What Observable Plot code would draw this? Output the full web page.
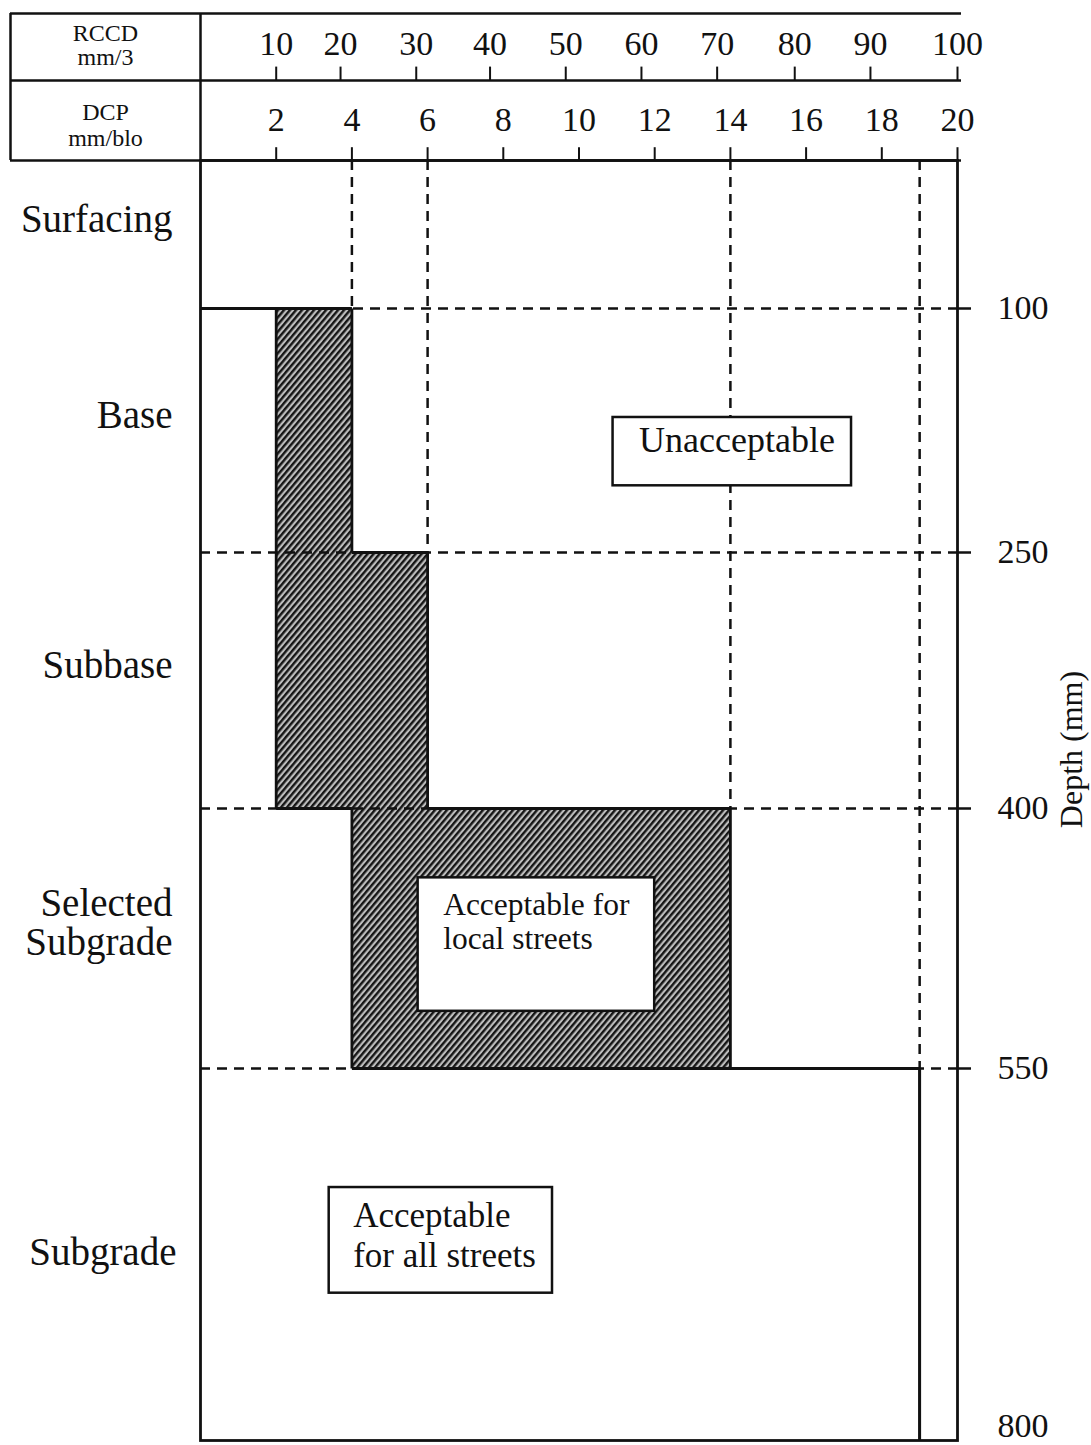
<!DOCTYPE html>
<html>
<head>
<meta charset="utf-8">
<script src="https://cdn.jsdelivr.net/npm/d3@7"></script>
<script src="https://cdn.jsdelivr.net/npm/@observablehq/plot@0.6"></script>
<style>
  body { margin: 0; background: #fff; }
  #chart { position: relative; width: 1091px; height: 1445px; }
  #chart svg { display: block; overflow: visible; }
</style>
</head>
<body>
<svg width="0" height="0" style="position:absolute">
  <defs>
    <pattern id="hatch" patternUnits="userSpaceOnUse" width="4.6" height="10" patternTransform="rotate(40)">
      <rect width="4.6" height="10" fill="#bdbdbd"></rect>
      <rect width="2.4" height="10" fill="#151515"></rect>
    </pattern>
  </defs>
</svg>
<div id="chart"></div>
<script>
// ---------------- data ----------------
const rccdTicks = [10, 20, 30, 40, 50, 60, 70, 80, 90, 100];
// where each RCCD tick sits on the DCP scale
const rccdAtDcp = [2, 3.7, 5.7, 7.65, 9.65, 11.65, 13.65, 15.7, 17.7, 20];
const dcpTicks = [2, 4, 6, 8, 10, 12, 14, 16, 18, 20];

const layers = ["Surfacing", "Base", "Subbase", "Selected\nSubgrade", "Subgrade"];
const layerTop = [0, 100, 250, 400, 550];
const layerBottom = [100, 250, 400, 550, 800];
// DCP limit (mm/blow) per layer
const allStreetsMax = [null, 2, 2, 4, 19];
const localStreetsMax = [null, 4, 6, 14, 19];

const depthTicks = [100, 250, 400, 550, 800];

const regionLabels = ["Unacceptable", "Acceptable for\nlocal streets", "Acceptable\nfor all streets"];
const regionDcpFrom = [10.9, 5.75, 3.4];
const regionDcpTo = [17.2, 12.0, 9.3];
const regionDepthFrom = [167, 440, 630];
const regionDepthTo = [209, 517, 701];

// ---------------- setup ----------------
const W = 1091;
const serif = "'Liberation Serif', 'Times New Roman', serif";
const ink = "#111";
const dash = "10,7";

// the depth axis of the figure is not drawn to a uniform scale: piecewise warp
const depthWarp = d3.scaleLinear().domain([0, 100, 250, 400, 550, 800]).range([0, 148, 392, 648, 908, 1280]);
const rowWarp = d3.scaleLinear().domain([0, 1, 2]).range([0, 67, 147]);

const rccd = rccdTicks.map((v, i) => ({label: v, pos: rccdAtDcp[i]}));
const layerData = layers.map((name, i) => ({
  name, top: layerTop[i], bottom: layerBottom[i],
  mid: (layerTop[i] + layerBottom[i]) / 2,
  all: allStreetsMax[i], local: localStreetsMax[i]
}));
const limited = layerData.filter(d => d.local != null);
const shaded = limited.filter(d => d.local > d.all);

// solid outline segments of the acceptable / shaded zones
const segs = [];
for (let i = 1; i < layerData.length; i++) {
  const L = layerData[i], P = layerData[i - 1], N = layerData[i + 1];
  segs.push({x1: L.all, y1: L.top, x2: L.all, y2: L.bottom});
  segs.push({x1: L.local, y1: L.top, x2: L.local, y2: L.bottom});
  segs.push({x1: P.local ?? 0, y1: L.top, x2: L.local, y2: L.top});
  if (N) segs.push({x1: L.all, y1: L.bottom, x2: N.all, y2: L.bottom});
}

const regions = regionLabels.map((t, i) => ({
  text: t, x1: regionDcpFrom[i], x2: regionDcpTo[i], y1: regionDepthFrom[i], y2: regionDepthTo[i]
}));

const baseStyle = {fontFamily: serif, overflow: "visible", background: "transparent", color: ink};
const lastDepth = depthTicks[depthTicks.length - 1];

// ---------------- header (RCCD / DCP scales) ----------------
const header = Plot.plot({
  width: W, height: 160,
  marginLeft: 200, marginRight: 134, marginTop: 13, marginBottom: 0,
  x: {domain: [0, 20], axis: null},
  y: {transform: rowWarp, domain: [0, 147], reverse: true, axis: null},
  style: baseStyle,
  marks: [
    Plot.ruleY([0, 1, 2], {insetLeft: -190, insetRight: -4, stroke: ink, strokeWidth: 2.5}),
    Plot.ruleX([0], {y1: 0, y2: 2, stroke: ink, strokeWidth: 2.5}),
    Plot.ruleX([0], {y1: 0, y2: 2, dx: -190, stroke: ink, strokeWidth: 2.5}),
    Plot.ruleX(rccd, {x: "pos", y1: 0.8, y2: 1, stroke: ink, strokeWidth: 2}),
    Plot.text(rccd, {x: "pos", y: 0.45, text: d => String(d.label), fontSize: 34, fill: ink}),
    Plot.ruleX(dcpTicks, {x: d => d, y1: 1.84, y2: 2, stroke: ink, strokeWidth: 2}),
    Plot.text(dcpTicks, {x: d => d, y: 1.5, text: d => String(d), fontSize: 34, fill: ink}),
    Plot.text(["RCCD\nmm/3"], {x: 0, y: 0.47, dx: -95, text: d => d, fontSize: 24, lineHeight: 1.0, fill: ink}),
    Plot.text(["DCP\nmm/blo"], {x: 0, y: 1.55, dx: -95, text: d => d, fontSize: 24, lineHeight: 1.1, fill: ink})
  ]
});

// ---------------- main chart ----------------
const main = Plot.plot({
  width: W, height: 1285,
  marginLeft: 200, marginRight: 134, marginTop: 0, marginBottom: 5,
  x: {domain: [0, 20], axis: null},
  y: {transform: depthWarp, domain: [0, 1280], reverse: true, axis: null},
  style: baseStyle,
  marks: [
    Plot.rect(shaded, {x1: "all", x2: "local", y1: "top", y2: "bottom", fill: "url(#hatch)"}),
    Plot.ruleX(limited, {x: "local", y1: 0, y2: "top", stroke: ink, strokeWidth: 2.5, strokeDasharray: dash}),
    Plot.ruleY(layerTop.slice(1), {stroke: ink, strokeWidth: 2.5, strokeDasharray: dash}),
    Plot.link(segs, {x1: "x1", y1: "y1", x2: "x2", y2: "y2", stroke: ink, strokeWidth: 2.8}),
    Plot.frame({stroke: ink, strokeWidth: 2.8}),
    Plot.rect(regions, {x1: "x1", x2: "x2", y1: "y1", y2: "y2", fill: "white", stroke: ink, strokeWidth: 2.5}),
    Plot.text(regions.slice(0, 1), {x: "x1", y: "y1", text: "text", textAnchor: "start", lineAnchor: "top", dx: 26, dy: 9, fontSize: 36, fill: ink}),
    Plot.text(regions.slice(1, 2), {x: "x1", y: "y1", text: "text", textAnchor: "start", lineAnchor: "top", dx: 25, dy: 13, fontSize: 31.5, lineHeight: 1.08, fill: ink}),
    Plot.text(regions.slice(2, 3), {x: "x1", y: "y1", text: "text", textAnchor: "start", lineAnchor: "top", dx: 24, dy: 12, fontSize: 35, lineHeight: 1.12, fill: ink}),
    Plot.text(layerData.slice(0, 4), {x: 0, y: "mid", text: "name", textAnchor: "end", dx: -28, dy: -15, fontSize: 39, lineHeight: 1.0, fill: ink}),
    Plot.text(layerData.slice(4), {x: 0, y: "mid", text: "name", textAnchor: "end", dx: -24, dy: -2, fontSize: 39, fill: ink}),
    Plot.axisY(depthTicks.slice(0, -1), {anchor: "right", tickSize: 13, tickPadding: 27, fontSize: 34, strokeWidth: 2.5, label: null, tickFormat: d => String(d), fill: ink, stroke: ink}),
    Plot.axisY([lastDepth], {anchor: "right", tickSize: 0, tickPadding: 40, fontSize: 34, label: null, dy: -14, tickFormat: d => String(d), fill: ink}),
    Plot.text(["Depth (mm)"], {frameAnchor: "right", text: d => d, textAnchor: "middle", rotate: -90, dx: 114, dy: -51, fontSize: 32, fill: ink})
  ]
});

const chart = document.getElementById("chart");
chart.appendChild(header);
chart.appendChild(main);
</script>
</body>
</html>
